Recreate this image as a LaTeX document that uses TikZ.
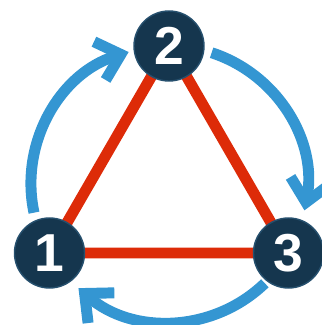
\documentclass[tikz,border=0pt]{standalone}
\usepackage{fontspec}
\setmainfont{Liberation Sans}
\usetikzlibrary{arrows.meta, positioning, backgrounds}
\definecolor{Navy}{RGB}{21, 54, 78}
\definecolor{NavyEdge}{RGB}{38, 80, 110}
\definecolor{Brick}{RGB}{221, 43, 8}
\definecolor{Sky}{RGB}{52, 150, 210}

\begin{document}
\begin{tikzpicture}[
    x=0.025cm, y=0.025cm,
    vertex/.style={circle, fill=Navy, draw=NavyEdge, line width=1pt,
                   minimum size=1.75cm, inner sep=0pt, text=white,
                   font=\fontsize{38}{38}\selectfont\bfseries},
    side/.style={Brick, line width=7.8pt},
    cyc/.style={Sky, line width=7.8pt,
                -{Straight Barb[length=5.5mm, width=10mm, sharp]}}
  ]
    \useasboundingbox (-169,-141) rectangle (153,184);
    \coordinate (c) at (0,0);

    \node[vertex] (v1) at (210:138) {1};
    \node[vertex] (v2) at (90:138) {2};
    \node[vertex] (v3) at (330:138) {3};

    \begin{pgfonlayer}{background}
      \draw[side] (v1.center) -- (v2.center) -- (v3.center) -- cycle;
    \end{pgfonlayer}

    \draw[cyc] (c) ++(192:138) arc[start angle=192, end angle=107, radius=138];
    \draw[cyc] (c) ++(72:138) arc[start angle=72, end angle=-11, radius=138];
    \draw[cyc] (c) ++(314:138) arc[start angle=314, end angle=229, radius=138];
  \end{tikzpicture}
\end{document}
